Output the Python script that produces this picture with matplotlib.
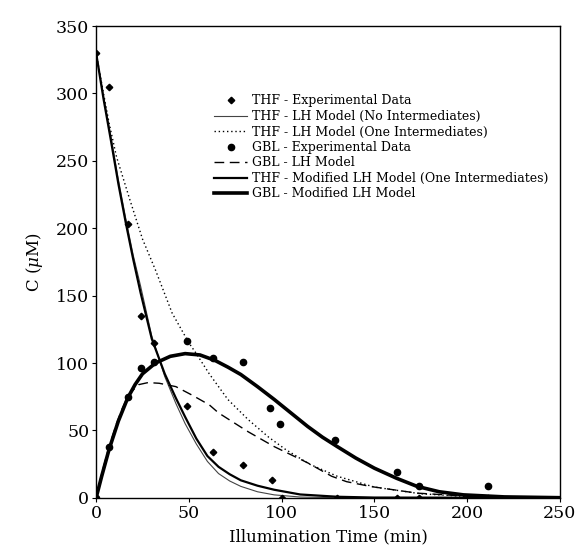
import matplotlib
matplotlib.use("Agg")
import matplotlib.pyplot as plt

plt.rcParams['font.family'] = ['DejaVu Serif']
plt.rcParams['mathtext.fontset'] = 'dejavuserif'

# experimental data
thf_t = [0, 7, 17, 24, 31, 49, 63, 79, 95, 100, 130, 162, 174, 211]
thf_c = [330, 305, 203, 135, 115, 68, 34, 24, 13, 0, 0, 0, 0, 0]
gbl_t = [0, 7, 17, 24, 31, 49, 63, 79, 94, 99, 129, 162, 174, 211]
gbl_c = [0, 38, 75, 96, 101, 116, 104, 101, 67, 55, 43, 19, 9, 9]

# THF - LH model (no intermediates)
lh1_t = [0, 4, 8, 12, 16, 20, 24, 30, 37, 43, 48, 54, 60, 66, 72, 78, 87, 96, 110, 130, 150, 250]
lh1_c = [330, 298, 268, 236, 207, 180, 157, 120, 90, 70, 55, 40, 27, 18, 12.5, 8.5, 4.5, 2.2, 0.6, 0.1, 0, 0]

# THF - LH model (one intermediates)
lh2_t = [0, 4, 7, 11, 18, 25, 32, 41, 50, 54, 61, 71, 82, 93, 102, 115, 130, 150, 175, 200, 250]
lh2_c = [330, 300, 278, 253, 222, 192, 169, 137, 115, 107, 92, 73, 58, 45, 36, 25, 16, 8, 3, 1, 0]

# GBL - LH model
gbl_lh_t = [0, 2, 4, 7, 11, 14, 17, 20, 23, 28, 34, 43, 52, 61, 66, 74, 82, 96, 114, 127, 135, 148, 173, 200, 225, 250]
gbl_lh_c = [0, 12, 23, 38, 55, 66, 75, 80, 84, 85.5, 85, 82.5, 76, 69, 63, 56, 49, 38, 26, 16, 12, 8.4, 3.5, 1.2, 0.4, 0.1]

# THF - modified LH model (one intermediates)
thf_mod_t = [0, 4, 8, 12, 16, 20, 24, 30, 37, 43, 48, 54, 60, 66, 72, 78, 87, 96, 110, 130, 150, 250]
thf_mod_c = [330, 296, 265, 233, 204, 177, 152, 118, 92, 74, 60, 44, 31, 23, 17.5, 13, 9, 6, 2.5, 0.8, 0.2, 0]

# GBL - modified LH model
gbl_mod_t = [0, 3, 7, 12, 17, 21, 25, 32, 40, 48, 56, 64, 71, 78, 87, 96, 105, 114, 122, 130, 140, 150, 162, 173, 185, 198, 220, 250]
gbl_mod_c = [0, 16, 36, 57, 74, 84, 92, 100, 105, 107, 106, 102, 97, 91.5, 82.5, 73, 63, 53, 45, 38, 29.5, 22, 14.5, 8.5, 4.5, 2.2, 0.7, 0.1]

fig = plt.figure(figsize=(5.79, 5.55), dpi=100)
ax = fig.add_axes([0.166, 0.103, 0.801, 0.850])

ax.plot(thf_t, thf_c, linestyle='none', marker='D', markersize=3.3, color='k',
        label='THF - Experimental Data', zorder=5)
ax.plot(lh1_t, lh1_c, color='#444444', lw=0.8, label='THF - LH Model (No Intermediates)')
ax.plot(lh2_t, lh2_c, color='k', lw=1.0, linestyle=(0, (1, 2)), label='THF - LH Model (One Intermediates)')
ax.plot(gbl_t, gbl_c, linestyle='none', marker='o', markersize=4.5, color='k',
        label='GBL - Experimental Data', zorder=5)
ax.plot(gbl_lh_t, gbl_lh_c, color='k', lw=1.0, linestyle=(0, (7, 4)), label='GBL - LH Model')
ax.plot(thf_mod_t, thf_mod_c, color='k', lw=1.6, label='THF - Modified LH Model (One Intermediates)')
ax.plot(gbl_mod_t, gbl_mod_c, color='k', lw=2.6, label='GBL - Modified LH Model')

ax.set_xlim(0, 250)
ax.set_ylim(0, 350)
ax.set_xticks([0, 50, 100, 150, 200, 250])
ax.set_yticks([0, 50, 100, 150, 200, 250, 300, 350])
ax.tick_params(direction='out', length=3, width=0.8, labelsize=12.5, pad=2)
for s in ax.spines.values():
    s.set_linewidth(1.0)

ax.set_xlabel('Illumination Time (min)', fontsize=12, labelpad=5)
ax.set_ylabel(r'C ($\mu$M)', fontsize=12, labelpad=8)

ax.legend(loc='upper left', bbox_to_anchor=(0.255, 0.855), frameon=False, fontsize=9,
          handlelength=2.6, handletextpad=0.4, labelspacing=0.2, borderaxespad=0,
          borderpad=0)

fig.savefig('out.png', dpi=100)
